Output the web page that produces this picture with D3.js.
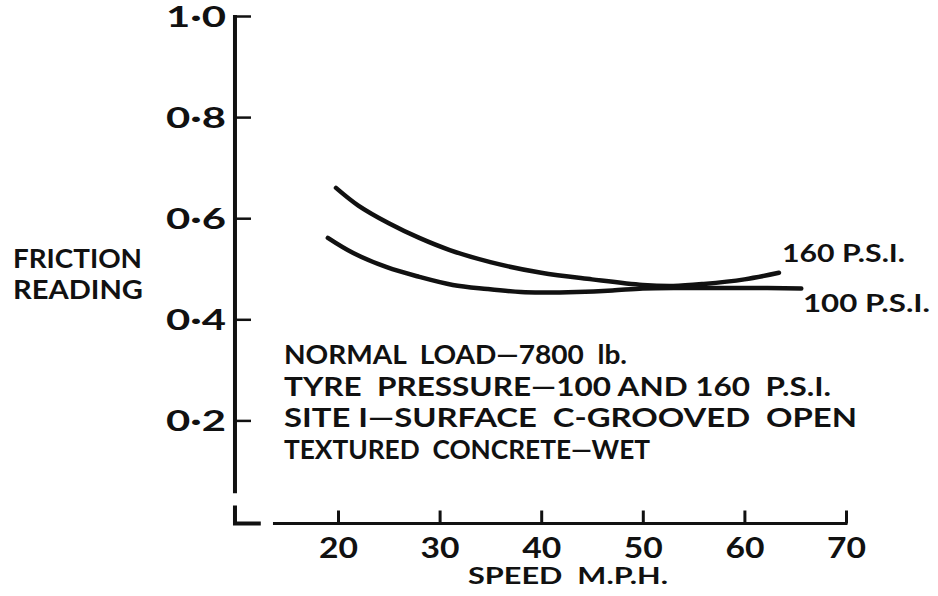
<!DOCTYPE html>
<html>
<head>
<meta charset="utf-8">
<script src="https://cdn.jsdelivr.net/npm/d3@7"></script>
<style>
  html, body { margin: 0; padding: 0; background: #fff; }
  svg { display: block; }
  text { font-family: Lato, "DejaVu Sans", sans-serif; font-weight: bold; fill: #111; white-space: pre; }
</style>
</head>
<body>
<svg id="chart" width="938" height="596"></svg>
<script>
// Friction reading vs speed, two tyre pressures
const speeds160 = [19.8, 22, 25, 28, 31, 35, 40, 45, 50, 53, 56, 60, 63.4];
const friction160 = [0.660, 0.625, 0.590, 0.561, 0.537, 0.513, 0.492, 0.479, 0.468, 0.466, 0.470, 0.479, 0.492];

const speeds100 = [19, 21.5, 24.8, 28, 31.3, 34.7, 38, 40, 43.5, 47, 50, 54, 60, 65.6];
const friction100 = [0.561, 0.531, 0.503, 0.484, 0.468, 0.460, 0.454, 0.453, 0.454, 0.457, 0.461, 0.462, 0.462, 0.461];

const xTicks = [20, 30, 40, 50, 60, 70];
const yTicks = [0.2, 0.4, 0.6, 0.8, 1.0];

const seriesLabels = ["160 P.S.I.", "100 P.S.I."];
const yTitle = ["FRICTION", "READING"];
const xTitle = "SPEED  M.P.H.";
const notes = [
  "NORMAL  LOAD—7800  lb.",
  "TYRE  PRESSURE—100 AND 160  P.S.I.",
  "SITE I—SURFACE  C-GROOVED  OPEN",
  "TEXTURED  CONCRETE—WET"
];

const svg = d3.select("#chart");
const ink = "#111";

const x = d3.scaleLinear().domain([20, 70]).range([338, 846]);
const y = d3.scaleLinear().domain([0, 1]).range([521.5, 16]);

const fmt = d => d3.format(".1f")(d).replace(".", "·");
const yAxisAt = x(9.86);

// Y axis: ticks point inward, labels sit on the left
const yAxis = d3.axisLeft(y).tickValues(yTicks).tickFormat(fmt)
  .tickSizeInner(-16).tickSizeOuter(0).tickPadding(9);
const gy = svg.append("g").attr("transform", `translate(${yAxisAt},0)`).call(yAxis);
gy.select(".domain").remove();
gy.selectAll(".tick line").attr("stroke", ink).attr("stroke-width", 2.5);
gy.selectAll(".tick text").attr("font-size", 28).attr("fill", ink).attr("dy", "0.36em")
  .attr("textLength", 60).attr("lengthAdjust", "spacingAndGlyphs");

// Broken y axis line, then the short corner piece at the origin
gy.append("line").attr("x1", 0).attr("x2", 0).attr("y1", y(1) - 1).attr("y2", y(0.056))
  .attr("stroke", ink).attr("stroke-width", 4);
gy.append("path")
  .attr("d", `M0,${y(0) - 16}V${y(0) + 2}H${x(12.4) - yAxisAt}`)
  .attr("fill", "none").attr("stroke", ink).attr("stroke-width", 4);

// X axis: ticks point up, labels below
const xAxis = d3.axisBottom(x).tickValues(xTicks).tickFormat(d3.format("d"))
  .tickSizeInner(-13).tickSizeOuter(0).tickPadding(15);
const gx = svg.append("g").attr("transform", `translate(0,${y(0) + 2})`).call(xAxis);
gx.select(".domain").remove();
gx.selectAll(".tick line").attr("stroke", ink).attr("stroke-width", 3);
gx.selectAll(".tick text").attr("font-size", 28).attr("fill", ink)
  .attr("textLength", 39).attr("lengthAdjust", "spacingAndGlyphs");
gx.append("line").attr("x1", x(13.6)).attr("x2", x(70) + 1.5).attr("y1", 0).attr("y2", 0)
  .attr("stroke", ink).attr("stroke-width", 3);

// Curves
const line = d3.line().x(d => x(d[0])).y(d => y(d[1])).curve(d3.curveCatmullRom.alpha(0.5));
const data160 = speeds160.map((s, i) => [s, friction160[i]]);
const data100 = speeds100.map((s, i) => [s, friction100[i]]);
[data160, data100].forEach(d => {
  svg.append("path").datum(d).attr("d", line)
    .attr("fill", "none").attr("stroke", ink).attr("stroke-width", 4.5)
    .attr("stroke-linecap", "round");
});

// Curve labels
svg.append("text").attr("x", 782).attr("y", 262).attr("font-size", 24)
  .attr("textLength", 123).attr("lengthAdjust", "spacingAndGlyphs").text(seriesLabels[0]);
svg.append("text").attr("x", 803).attr("y", 312).attr("font-size", 24)
  .attr("textLength", 127).attr("lengthAdjust", "spacingAndGlyphs").text(seriesLabels[1]);

// Axis titles
svg.append("text").attr("x", 13).attr("y", 268).attr("font-size", 27)
  .attr("textLength", 129).attr("lengthAdjust", "spacingAndGlyphs").text(yTitle[0]);
svg.append("text").attr("x", 13).attr("y", 299).attr("font-size", 27)
  .attr("textLength", 130).attr("lengthAdjust", "spacingAndGlyphs").text(yTitle[1]);
svg.append("text").attr("x", 468).attr("y", 584).attr("font-size", 23)
  .attr("textLength", 200).attr("lengthAdjust", "spacingAndGlyphs").text(xTitle);

// Test conditions block
const noteWidths = [343, 547, 573, 366];
notes.forEach((t, i) => {
  svg.append("text").attr("x", 284).attr("y", 364 + i * 31.7).attr("font-size", 27)
    .attr("textLength", noteWidths[i]).attr("lengthAdjust", "spacingAndGlyphs").text(t);
});
</script>
</body>
</html>
